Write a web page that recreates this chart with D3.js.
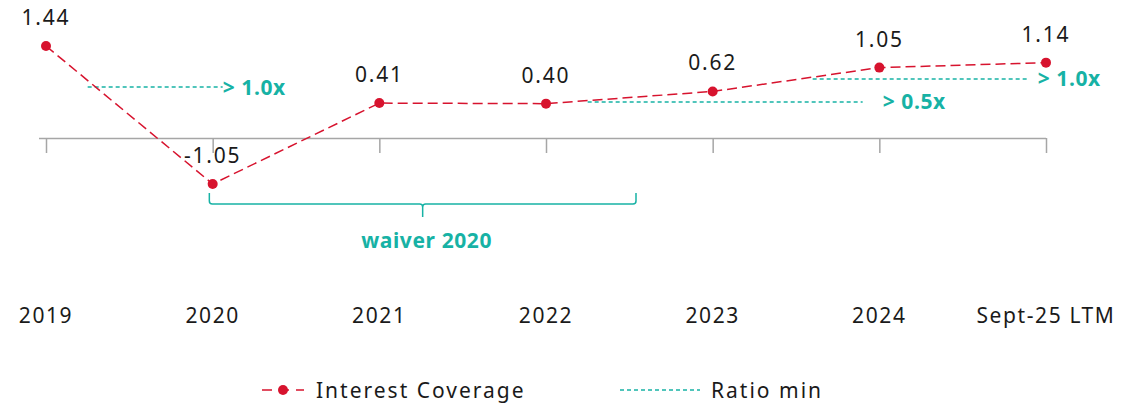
<!DOCTYPE html>
<html>
<head>
<meta charset="utf-8">
<script src="https://cdn.jsdelivr.net/npm/d3@7"></script>
<style>
  body { margin: 0; background: #fff; }
  text { font-family: "Noto Sans", sans-serif; }
</style>
</head>
<body>
<div id="chart"></div>
<script>
// categories and values
var categories = ["2019", "2020", "2021", "2022", "2023", "2024", "Sept-25 LTM"];
var coverage = [1.44, -1.05, 0.41, 0.40, 0.62, 1.05, 1.14];

// covenant minimum annotations: start/end/label spot in category units, drawn level on the value scale
var ratioLabels = ["> 1.0x", "> 0.5x", "> 1.0x"];
var ratioFrom = [0.25, 3.25, 4.6];
var ratioTo = [1.06, 4.9, 5.9];
var ratioLabelAt = [1.06, 5.02, 5.95];
var ratioLevel = [0.70, 0.43, 0.845];

// waiver bracket in category units
var waiverLabel = "waiver 2020";
var waiverRange = [0.98, 3.54];

var width = 1143, height = 407;
var red = "#d7132e", teal = "#17b2a5", grey = "#a6a6a6", ink = "#1a1a1a";

var svg = d3.select("#chart").append("svg")
  .attr("width", width)
  .attr("height", height);

var x = d3.scalePoint().domain(categories).range([46, 1046]);
var xi = d3.scaleLinear().domain([0, categories.length - 1]).range([46, 1046]);
var y = d3.scaleLinear().domain([-1.05, 1.44]).range([184, 46]);

// axis (without labels, those sit further down)
var axisY = 138;
svg.append("g")
  .attr("transform", "translate(0," + axisY + ")")
  .call(d3.axisBottom(x).tickSize(15).tickSizeOuter(0).tickFormat(""))
  .call(function (g) {
    g.selectAll("path, line").attr("stroke", grey).attr("stroke-width", 1.5);
    g.select(".domain").attr("d", "M39,0.5H1046");
  });

svg.append("g").selectAll("text")
  .data(categories)
  .enter()
  .append("text")
  .attr("x", function (d) { return x(d); })
  .attr("y", 323)
  .attr("text-anchor", "middle")
  .attr("font-size", 21)
  .attr("letter-spacing", 1.6)
  .attr("fill", ink)
  .text(function (d) { return d; });

// ratio min dashed segments
var ratio = ratioLabels.map(function (l, i) {
  return { label: l, from: ratioFrom[i], to: ratioTo[i], at: ratioLabelAt[i], level: ratioLevel[i] };
});

svg.append("g").selectAll("line")
  .data(ratio)
  .enter()
  .append("line")
  .attr("x1", function (d) { return xi(d.from); })
  .attr("x2", function (d) { return xi(d.to); })
  .attr("y1", function (d) { return y(d.level); })
  .attr("y2", function (d) { return y(d.level); })
  .attr("stroke", teal)
  .attr("stroke-width", 1.3)
  .attr("stroke-dasharray", "4,3");

svg.append("g").selectAll("text")
  .data(ratio)
  .enter()
  .append("text")
  .attr("x", function (d) { return xi(d.at); })
  .attr("y", function (d) { return y(d.level) + 7.5; })
  .attr("font-size", 21)
  .attr("font-weight", "bold")
  .attr("letter-spacing", 0.6)
  .attr("fill", teal)
  .text(function (d) { return d.label; });

// waiver bracket
var bx0 = xi(waiverRange[0]), bx1 = xi(waiverRange[1]), bmid = (bx0 + bx1) / 2;
svg.append("path")
  .attr("d", "M" + bx0 + ",193 V201 Q" + bx0 + ",204 " + (bx0 + 3) + ",204 H" + (bmid - 3) +
    " Q" + bmid + ",204 " + bmid + ",207 V217 V207 Q" + bmid + ",204 " + (bmid + 3) + ",204 H" +
    (bx1 - 3) + " Q" + bx1 + ",204 " + bx1 + ",201 V193")
  .attr("fill", "none")
  .attr("stroke", teal)
  .attr("stroke-width", 1.5);

svg.append("text")
  .attr("x", bmid + 4)
  .attr("y", 248)
  .attr("text-anchor", "middle")
  .attr("font-size", 21)
  .attr("font-weight", "bold")
  .attr("letter-spacing", 0.6)
  .attr("fill", teal)
  .text(waiverLabel);

// interest coverage line
var line = d3.line()
  .x(function (d, i) { return x(categories[i]); })
  .y(function (d) { return y(d); });

svg.append("path")
  .datum(coverage)
  .attr("d", line)
  .attr("fill", "none")
  .attr("stroke", red)
  .attr("stroke-width", 1.5)
  .attr("stroke-dasharray", "10,5");

svg.append("g").selectAll("circle")
  .data(coverage)
  .enter()
  .append("circle")
  .attr("cx", function (d, i) { return x(categories[i]); })
  .attr("cy", function (d) { return y(d); })
  .attr("r", 5)
  .attr("fill", red);

svg.append("g").selectAll("text")
  .data(coverage)
  .enter()
  .append("text")
  .attr("x", function (d, i) { return x(categories[i]); })
  .attr("y", function (d) { return y(d) - 21; })
  .attr("text-anchor", "middle")
  .attr("font-size", 21)
  .attr("letter-spacing", 1.8)
  .attr("fill", ink)
  .text(function (d) { return d.toFixed(2); });

// legend
var legend = svg.append("g").attr("transform", "translate(0,390)");
legend.append("line")
  .attr("x1", 262).attr("x2", 304).attr("y1", 0).attr("y2", 0)
  .attr("stroke", red).attr("stroke-width", 1.5).attr("stroke-dasharray", "10,7");
legend.append("circle").attr("cx", 283).attr("cy", 0).attr("r", 5).attr("fill", red);
legend.append("text").attr("x", 316).attr("y", 8).attr("font-size", 21).attr("letter-spacing", 2)
  .attr("fill", ink).text("Interest Coverage");
legend.append("line")
  .attr("x1", 620).attr("x2", 700).attr("y1", 0).attr("y2", 0)
  .attr("stroke", teal).attr("stroke-width", 1.3).attr("stroke-dasharray", "4,3");
legend.append("text").attr("x", 711).attr("y", 8).attr("font-size", 21).attr("letter-spacing", 2)
  .attr("fill", ink).text("Ratio min");
</script>
</body>
</html>
